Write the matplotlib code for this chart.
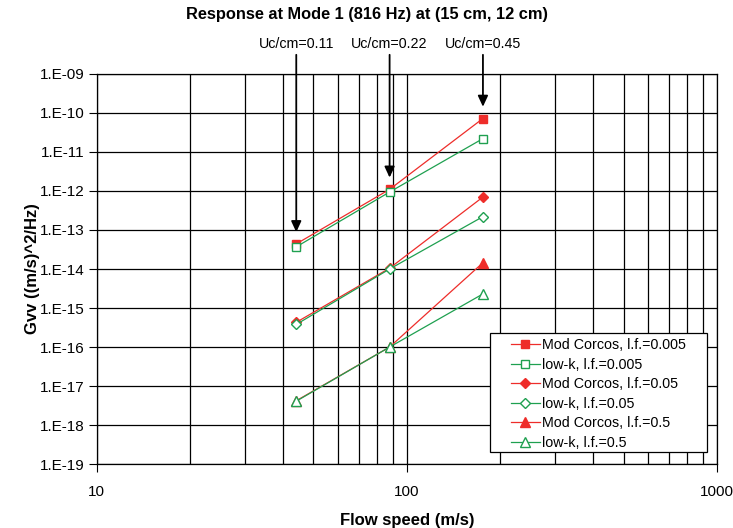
import matplotlib
matplotlib.use("Agg")
import matplotlib.pyplot as plt
from matplotlib.ticker import LogLocator, FixedLocator, NullFormatter
from matplotlib.patches import Rectangle

plt.rcParams['font.family'] = ['Liberation Sans', 'DejaVu Sans']

speed = [44, 88, 176]
mc_005 = [4.4e-14, 1.1e-12, 7.2e-11]
lk_005 = [3.7e-14, 9.4e-13, 2.2e-11]
mc_05 = [4.3e-16, 1.05e-14, 7.0e-13]
lk_05 = [3.8e-16, 1.0e-14, 2.2e-13]
mc_5 = [4.2e-18, 1.0e-16, 1.45e-14]
lk_5 = [4.1e-18, 1.0e-16, 2.3e-15]

arrow_labels = ["Uc/cm=0.11", "Uc/cm=0.22", "Uc/cm=0.45"]

yticks = [10.0 ** e for e in range(-19, -8)]
ytick_labels = ["1.E-%02d" % (-e) for e in range(-19, -8)]

red = '#EE2D2A'
green = '#1FA050'

fig = plt.figure(figsize=(7.33, 5.28), dpi=100)
ax = fig.add_axes([0.132, 0.121, 0.846, 0.739])
ax.set_xscale('log')
ax.set_yscale('log')
ax.set_xlim(10, 1000)
ax.set_ylim(1e-19, 1e-9)

ax.set_yticks(yticks)
ax.set_yticklabels(ytick_labels)
ax.yaxis.set_minor_locator(FixedLocator([]))
ax.set_xticks([10, 100, 1000])
ax.set_xticklabels(['10', '100', '1000'])
ax.xaxis.set_minor_locator(LogLocator(base=10, subs=range(2, 10)))
ax.xaxis.set_minor_formatter(NullFormatter())
ax.tick_params(axis='both', which='major', direction='out', length=6, width=0.8, labelsize=11, colors='black')
ax.tick_params(axis='y', which='major', pad=3)
ax.tick_params(axis='x', which='major', pad=9)
ax.tick_params(axis='x', which='minor', length=0)
ax.grid(True, which='major', axis='both', color='black', linewidth=0.9)
ax.grid(True, which='minor', axis='x', color='black', linewidth=0.9)
for s in ax.spines.values():
    s.set_linewidth(0.9)

lw = 0.9
ax.plot(speed, mc_005, '-s', color=red, mfc=red, mec=red, ms=6, lw=lw, label='Mod Corcos, l.f.=0.005', zorder=5)
ax.plot(speed, lk_005, '-s', color=green, mfc='white', mec=green, ms=6, lw=lw, label='low-k, l.f.=0.005', zorder=5)
ax.plot(speed, mc_05, '-D', color=red, mfc=red, mec=red, ms=5.5, lw=lw, label='Mod Corcos, l.f.=0.05', zorder=5)
ax.plot(speed, lk_05, '-D', color=green, mfc='white', mec=green, ms=5.5, lw=lw, label='low-k, l.f.=0.05', zorder=5)
ax.plot(speed, mc_5, '-^', color=red, mfc=red, mec=red, ms=7, lw=lw, label='Mod Corcos, l.f.=0.5', zorder=5)
ax.plot(speed, lk_5, '-^', color=green, mfc='white', mec=green, ms=7, lw=lw, label='low-k, l.f.=0.5', zorder=5)

# arrows with labels above the plot
for x, ytop, lab in zip(speed, mc_005, arrow_labels):
    ax.annotate('', xy=(x, ytop * 2.0), xycoords='data',
                xytext=(x, 1.049), textcoords=('data', 'axes fraction'),
                arrowprops=dict(arrowstyle='-|>,head_length=0.65,head_width=0.3', color='black', lw=1.3,
                                mutation_scale=10, shrinkA=0, shrinkB=0),
                annotation_clip=False, zorder=6)
    ax.annotate(lab, xy=(x, 1.077), xycoords=('data', 'axes fraction'),
                ha='center', va='center', fontsize=10.3, annotation_clip=False)

ax.set_xlabel('Flow speed (m/s)', fontsize=12, fontweight='bold', labelpad=10)
ax.set_ylabel('Gvv ((m/s)^2/Hz)', fontsize=12, fontweight='bold', labelpad=0)
fig.text(0.501, 0.973, 'Response at Mode 1 (816 Hz) at (15 cm, 12 cm)', ha='center', va='center',
         fontsize=11.8, fontweight='bold')

# legend frame
rect = Rectangle((0.634, 0.031), 0.984 - 0.634, 0.336 - 0.031, transform=ax.transAxes,
                 facecolor='white', edgecolor='black', linewidth=0.9, zorder=7)
ax.add_patch(rect)
leg = ax.legend(loc='upper left', bbox_to_anchor=(0.668, 0.322), fontsize=10.3, frameon=False,
                handlelength=2.0, labelspacing=0.38, borderpad=0, borderaxespad=0,
                handletextpad=0.15)
leg.set_zorder(8)

fig.savefig('out.png', dpi=100)
